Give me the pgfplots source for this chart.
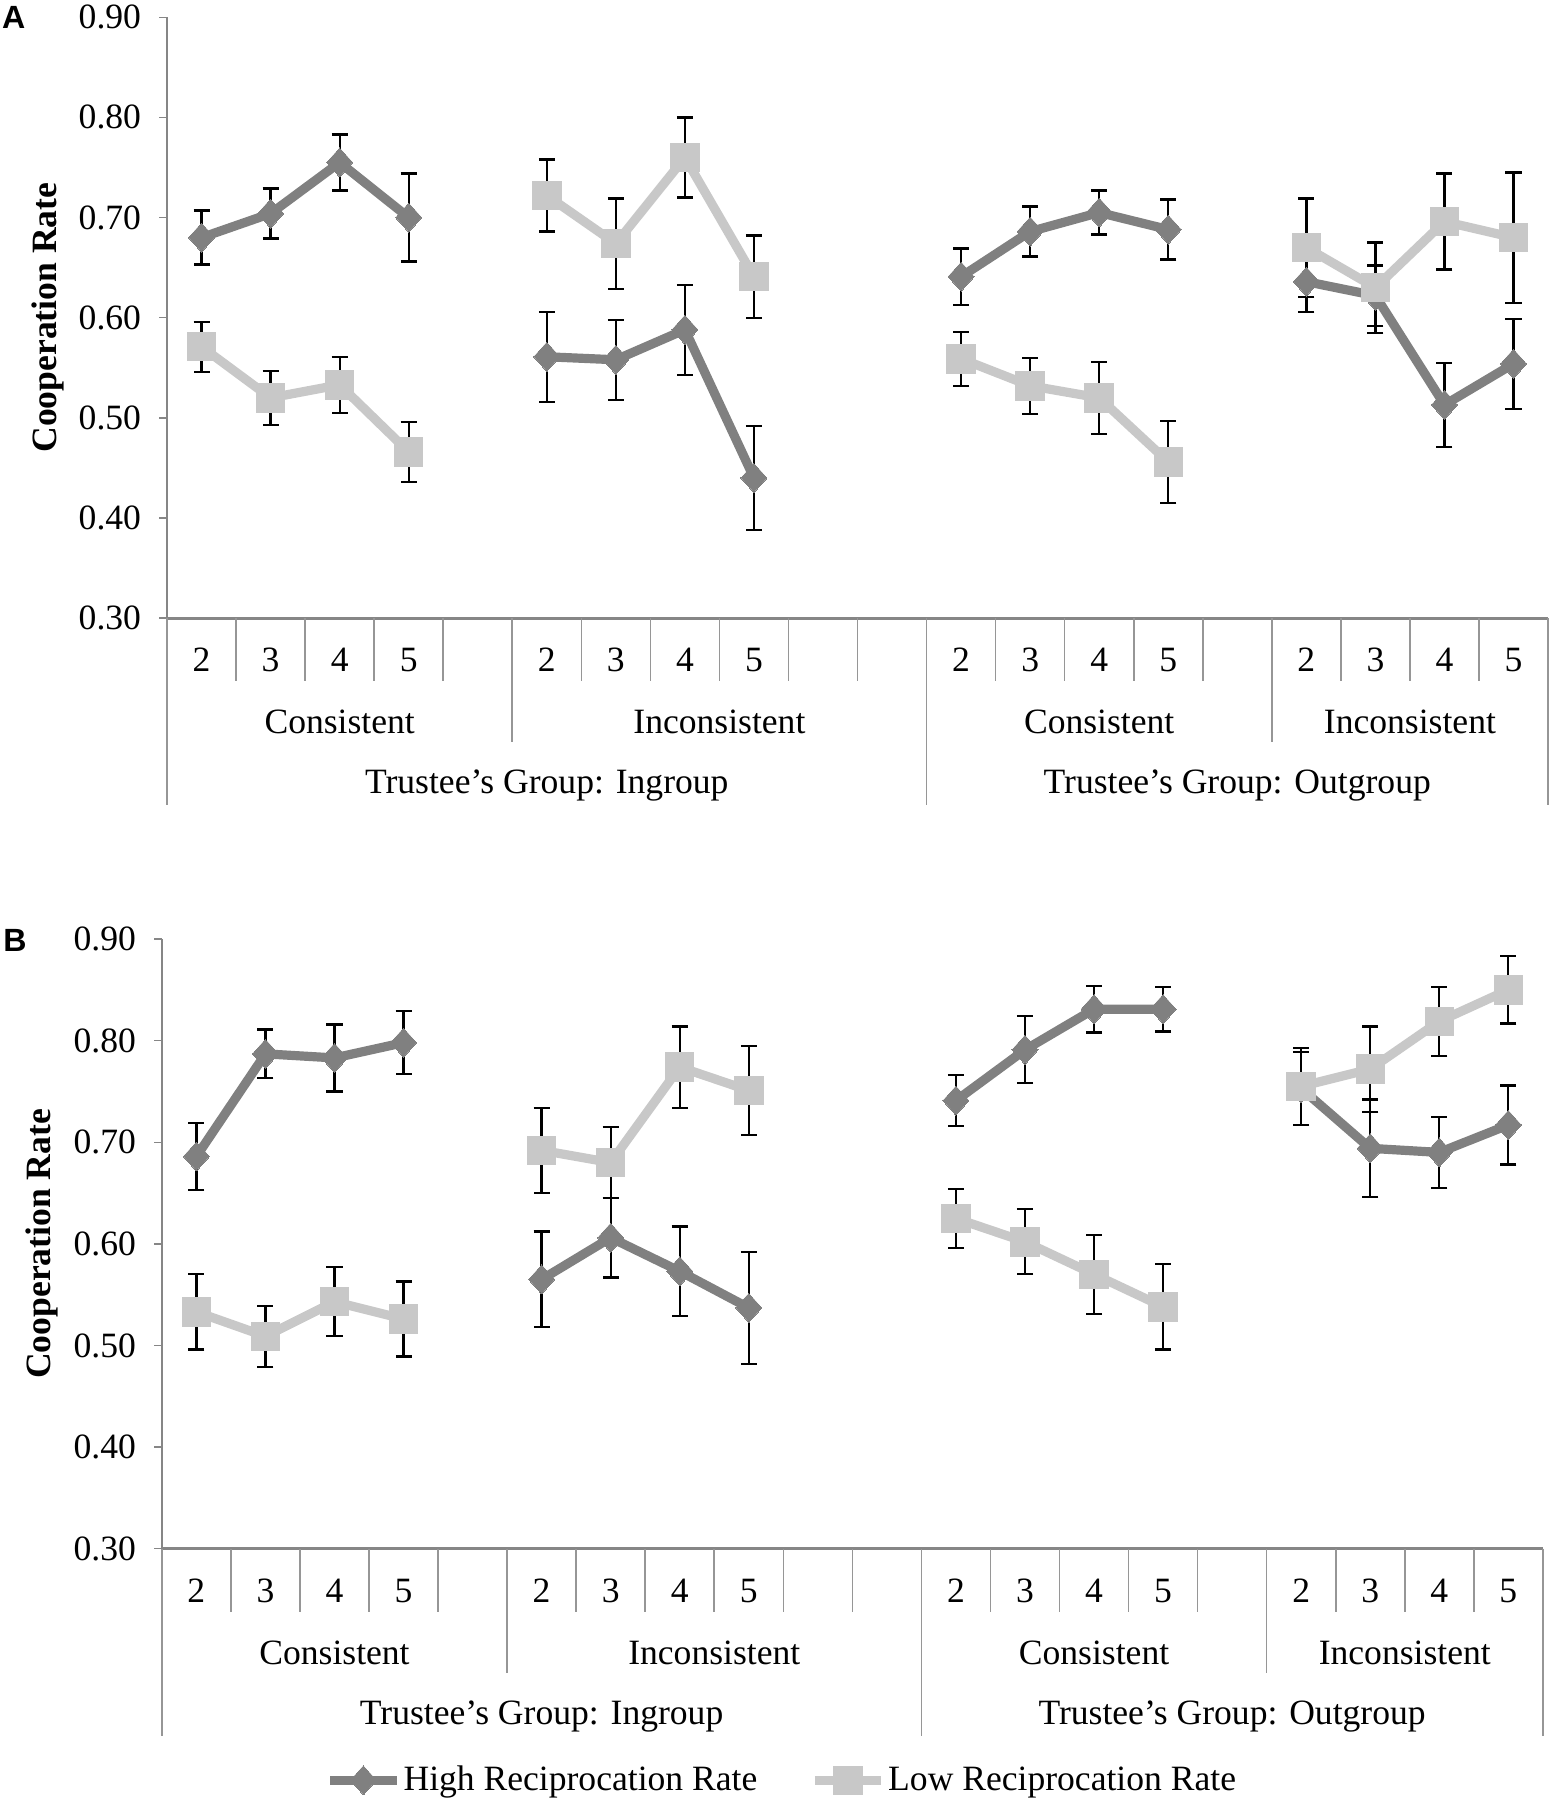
\documentclass[border=0pt]{standalone}
\usepackage{fontspec}
\setmainfont{Liberation Serif}
\newfontfamily\sansfam{Liberation Sans}
\usepackage{pgfplots}
\usepackage{pgfplotstable}
\pgfplotsset{compat=1.18}

\definecolor{hic}{RGB}{128,128,128}
\definecolor{loc}{RGB}{200,200,200}
\definecolor{axc}{RGB}{134,134,134}
\definecolor{sepc}{RGB}{150,150,150}

\newcommand\fs{\fontsize{15.5}{18}\selectfont}
\newcommand\apos{{\char"27}}

% Panel A: slot, high, high err, low, low err
\pgfplotstableread{
x  hi    hie   lo    loe
0  0.680 0.027 0.571 0.025
1  0.704 0.025 0.520 0.027
2  0.755 0.028 0.533 0.028
3  0.700 0.044 0.466 0.030
4  nan   nan   nan   nan
5  0.561 0.045 0.722 0.036
6  0.558 0.040 0.674 0.045
7  0.588 0.045 0.760 0.040
8  0.440 0.052 0.641 0.041
9  nan   nan   nan   nan
10 nan   nan   nan   nan
11 0.641 0.028 0.559 0.027
12 0.686 0.025 0.532 0.028
13 0.705 0.022 0.520 0.036
14 0.688 0.030 0.456 0.041
15 nan   nan   nan   nan
16 0.636 0.030 0.670 0.049
17 0.622 0.030 0.630 0.045
18 0.513 0.042 0.696 0.048
19 0.554 0.045 0.680 0.065
}\dataA

% Panel B
\pgfplotstableread{
x  hi    hie   lo    loe
0  0.686 0.033 0.533 0.037
1  0.787 0.024 0.509 0.030
2  0.783 0.033 0.543 0.034
3  0.798 0.031 0.526 0.037
4  nan   nan   nan   nan
5  0.565 0.047 0.692 0.042
6  0.606 0.039 0.680 0.035
7  0.573 0.044 0.774 0.040
8  0.537 0.055 0.751 0.044
9  nan   nan   nan   nan
10 nan   nan   nan   nan
11 0.741 0.025 0.625 0.029
12 0.791 0.033 0.602 0.032
13 0.831 0.023 0.570 0.039
14 0.831 0.022 0.538 0.042
15 nan   nan   nan   nan
16 0.753 0.036 0.755 0.038
17 0.694 0.048 0.772 0.042
18 0.690 0.035 0.819 0.034
19 0.717 0.039 0.850 0.033
}\dataB

\pgfplotsset{
  panel/.style={
    scale only axis, width=601.5pt, clip=false,
    xmin=-0.5, xmax=19.5, ymin=0.3, ymax=0.9,
    unbounded coords=jump,
    axis x line*=bottom, axis y line*=left,
    axis line style={-},
    x axis line style={axc, line width=1.3pt, -},
    y axis line style={axc, line width=0.6pt, -},
    ytick={0.3,0.4,0.5,0.6,0.7,0.8,0.9},
    yticklabel style={xshift=-4.5pt, /pgf/number format/.cd, fixed, fixed zerofill, precision=2, assume math mode=true},
    tick label style={font=\fs, black},
    tick align=outside, major tick length=3.3pt,
    ytick style={axc, line width=0.6pt},
    xtick style={draw=none},
    xtick={0,1,2,3,5,6,7,8,11,12,13,14,16,17,18,19},
    xticklabels={2,3,4,5,2,3,4,5,2,3,4,5,2,3,4,5},
    xticklabel style={anchor=center, yshift=-15pt},
    ylabel={\bfseries Cooperation Rate},
    every axis y label/.style={at={(axis description cs:-0.0865,0.5)}, rotate=90, anchor=center, font=\fs},
    after end axis/.code={
      \foreach \s in {0.5,1.5,2.5,3.5,5.5,6.5,7.5,8.5,9.5,11.5,12.5,13.5,14.5,16.5,17.5,18.5}
        {\draw[sepc, line width=0.7pt] (axis cs:\s,0.3) -- ++(0pt,-27.5pt);}
      \foreach \s in {4.5,15.5}
        {\draw[sepc, line width=0.7pt] (axis cs:\s,0.3) -- ++(0pt,-54pt);}
      \foreach \s in {-0.5,10.5,19.5}
        {\draw[sepc, line width=0.7pt] (axis cs:\s,0.3) -- ++(0pt,-81.5pt);}
      \node[font=\fs] at ([yshift=-45.25pt]axis cs:2,0.3) {Consistent};
      \node[font=\fs] at ([yshift=-45.25pt]axis cs:7.5,0.3) {Inconsistent};
      \node[font=\fs] at ([yshift=-45.25pt]axis cs:13,0.3) {Consistent};
      \node[font=\fs] at ([yshift=-45.25pt]axis cs:17.5,0.3) {Inconsistent};
      \node[font=\fs] at ([yshift=-73pt]axis cs:5,0.3) {Trustee\apos s Group: Ingroup};
      \node[font=\fs] at ([yshift=-73pt]axis cs:15,0.3) {Trustee\apos s Group: Outgroup};
    },
    legend image code/.code={
      \draw[mark repeat=2,mark phase=2,#1] plot coordinates {(0pt,0pt) (14.5pt,0pt) (29pt,0pt)};
    },
  },
  hiplot/.style={color=hic, line width=4pt, line join=round,
    mark=diamond*, mark size=6.3pt,
    mark options={xscale=1.2, solid, fill=hic, draw=hic, line width=0pt},
    error bars/.cd, y dir=both, y explicit,
    error bar style={black, line width=1pt},
    error mark options={black, rotate=90, mark size=3.5pt, line width=1pt}},
  loplot/.style={color=loc, line width=4pt, line join=round,
    mark=square*, mark size=6.2pt,
    mark options={solid, fill=loc, draw=loc, line width=0pt},
    error bars/.cd, y dir=both, y explicit,
    error bar style={black, line width=1pt},
    error mark options={black, rotate=90, mark size=3.5pt, line width=1pt}},
}

\begin{document}
\begin{tikzpicture}
\path[use as bounding box] (0pt,0pt) rectangle (676pt,-784pt);

\begin{axis}[panel, at={(72.75pt,-269.25pt)}, anchor=south west, height=261.75pt]
  \addplot[hiplot] table[x=x, y=hi, y error=hie] {\dataA};
  \addplot[loplot] table[x=x, y=lo, y error=loe] {\dataA};
\end{axis}
\node[font=\sansfam\bfseries\fontsize{14}{16}\selectfont] at (6pt,-7.5pt) {A};

\begin{axis}[panel, at={(70.5pt,-674.5pt)}, anchor=south west, height=265.5pt,
  legend columns=2,
  legend style={draw=none, fill=none, font=\fs, at={(axis description cs:0.449,-0.38)}, anchor=center,
    /tikz/every even column/.append style={column sep=22pt},
    nodes={inner sep=1pt}}]
  \addplot[hiplot] table[x=x, y=hi, y error=hie] {\dataB};
  \addlegendentry{High Reciprocation Rate}
  \addplot[loplot] table[x=x, y=lo, y error=loe] {\dataB};
  \addlegendentry{Low Reciprocation Rate}
\end{axis}
\node[font=\sansfam\bfseries\fontsize{14}{16}\selectfont] at (6.5pt,-409.5pt) {B};
\end{tikzpicture}
\end{document}
